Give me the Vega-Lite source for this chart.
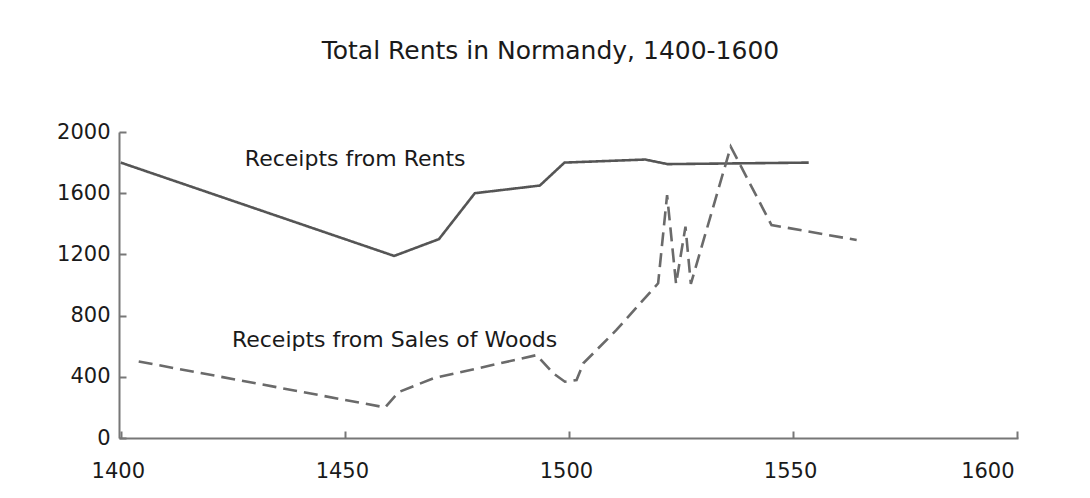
{
  "$schema": "https://vega.github.io/schema/vega-lite/v6.json",
  "width": 899,
  "height": 306,
  "autosize": {"type": "none"},
  "padding": {"left": 119, "top": 132, "right": 72, "bottom": 60},
  "background": "white",
  "config": {"view": {"stroke": null}, "font": "DejaVu Sans"},
  "title": {
    "text": "Total Rents in Normandy, 1400-1600",
    "font": "DejaVu Sans",
    "fontSize": 25,
    "fontWeight": "normal",
    "color": "#1a1a1a",
    "anchor": "middle",
    "frame": "group",
    "dx": -18,
    "offset": 57
  },
  "datasets": {
    "series": [
      {"series": "Receipts from Rents", "year": 1400, "value": 1800},
      {"series": "Receipts from Rents", "year": 1461, "value": 1190},
      {"series": "Receipts from Rents", "year": 1471, "value": 1300},
      {"series": "Receipts from Rents", "year": 1479, "value": 1600},
      {"series": "Receipts from Rents", "year": 1493.5, "value": 1650},
      {"series": "Receipts from Rents", "year": 1499, "value": 1800},
      {"series": "Receipts from Rents", "year": 1517, "value": 1820},
      {"series": "Receipts from Rents", "year": 1522, "value": 1790},
      {"series": "Receipts from Rents", "year": 1553.5, "value": 1800},
      {"series": "Receipts from Sales of Woods", "year": 1404, "value": 500},
      {"series": "Receipts from Sales of Woods", "year": 1459, "value": 200},
      {"series": "Receipts from Sales of Woods", "year": 1462, "value": 300},
      {"series": "Receipts from Sales of Woods", "year": 1469.7, "value": 390},
      {"series": "Receipts from Sales of Woods", "year": 1484.6, "value": 488},
      {"series": "Receipts from Sales of Woods", "year": 1492.8, "value": 542},
      {"series": "Receipts from Sales of Woods", "year": 1496.5, "value": 423},
      {"series": "Receipts from Sales of Woods", "year": 1499.1, "value": 368},
      {"series": "Receipts from Sales of Woods", "year": 1501.7, "value": 379},
      {"series": "Receipts from Sales of Woods", "year": 1503.2, "value": 488},
      {"series": "Receipts from Sales of Woods", "year": 1510.6, "value": 706},
      {"series": "Receipts from Sales of Woods", "year": 1519.9, "value": 1011},
      {"series": "Receipts from Sales of Woods", "year": 1521.9, "value": 1588},
      {"series": "Receipts from Sales of Woods", "year": 1523.9, "value": 1007},
      {"series": "Receipts from Sales of Woods", "year": 1526, "value": 1381},
      {"series": "Receipts from Sales of Woods", "year": 1527.2, "value": 1007},
      {"series": "Receipts from Sales of Woods", "year": 1536.1, "value": 1904},
      {"series": "Receipts from Sales of Woods", "year": 1545.2, "value": 1392},
      {"series": "Receipts from Sales of Woods", "year": 1564.2, "value": 1294}
    ],
    "labels": [
      {"text": "Receipts from Rents", "year": 1452.3, "value": 1778},
      {"text": "Receipts from Sales of Woods", "year": 1461.1, "value": 597}
    ]
  },
  "encoding": {
    "x": {
      "field": "year",
      "type": "quantitative",
      "scale": {"domain": [1399.6, 1600.2], "nice": false, "zero": false},
      "axis": {
        "values": [1400, 1450, 1500, 1550, 1600],
        "format": "d",
        "title": null,
        "grid": false,
        "labelFlush": 1.5,
        "labelOffset": -3,
        "labelFont": "DejaVu Sans",
        "labelFontSize": 21,
        "labelColor": "#1a1a1a",
        "labelPadding": 29,
        "domainColor": "#777777",
        "domainWidth": 2,
        "tickColor": "#777777",
        "tickWidth": 2,
        "tickSize": -7
      }
    },
    "y": {
      "field": "value",
      "type": "quantitative",
      "scale": {"domain": [0, 2000], "nice": false},
      "axis": {
        "values": [0, 400, 800, 1200, 1600, 2000],
        "format": "d",
        "title": null,
        "grid": false,
        "labelFont": "DejaVu Sans",
        "labelFontSize": 21,
        "labelColor": "#1a1a1a",
        "labelPadding": 16,
        "domainColor": "#777777",
        "domainWidth": 2,
        "tickColor": "#777777",
        "tickWidth": 2,
        "tickSize": -7
      }
    }
  },
  "layer": [
    {
      "data": {"name": "series"},
      "mark": {"type": "line", "strokeWidth": 2.6, "clip": false},
      "encoding": {
        "color": {
          "field": "series",
          "type": "nominal",
          "scale": {"domain": ["Receipts from Rents", "Receipts from Sales of Woods"], "range": ["#555555", "#6a6a6a"]},
          "legend": null
        },
        "strokeDash": {
          "field": "series",
          "type": "nominal",
          "scale": {"domain": ["Receipts from Rents", "Receipts from Sales of Woods"], "range": [[1, 0], [14, 7]]},
          "legend": null
        }
      }
    },
    {
      "data": {"name": "labels"},
      "mark": {"type": "text", "font": "DejaVu Sans", "fontSize": 22, "color": "#1a1a1a", "align": "center", "baseline": "alphabetic"},
      "encoding": {"text": {"field": "text", "type": "nominal"}}
    }
  ]
}
